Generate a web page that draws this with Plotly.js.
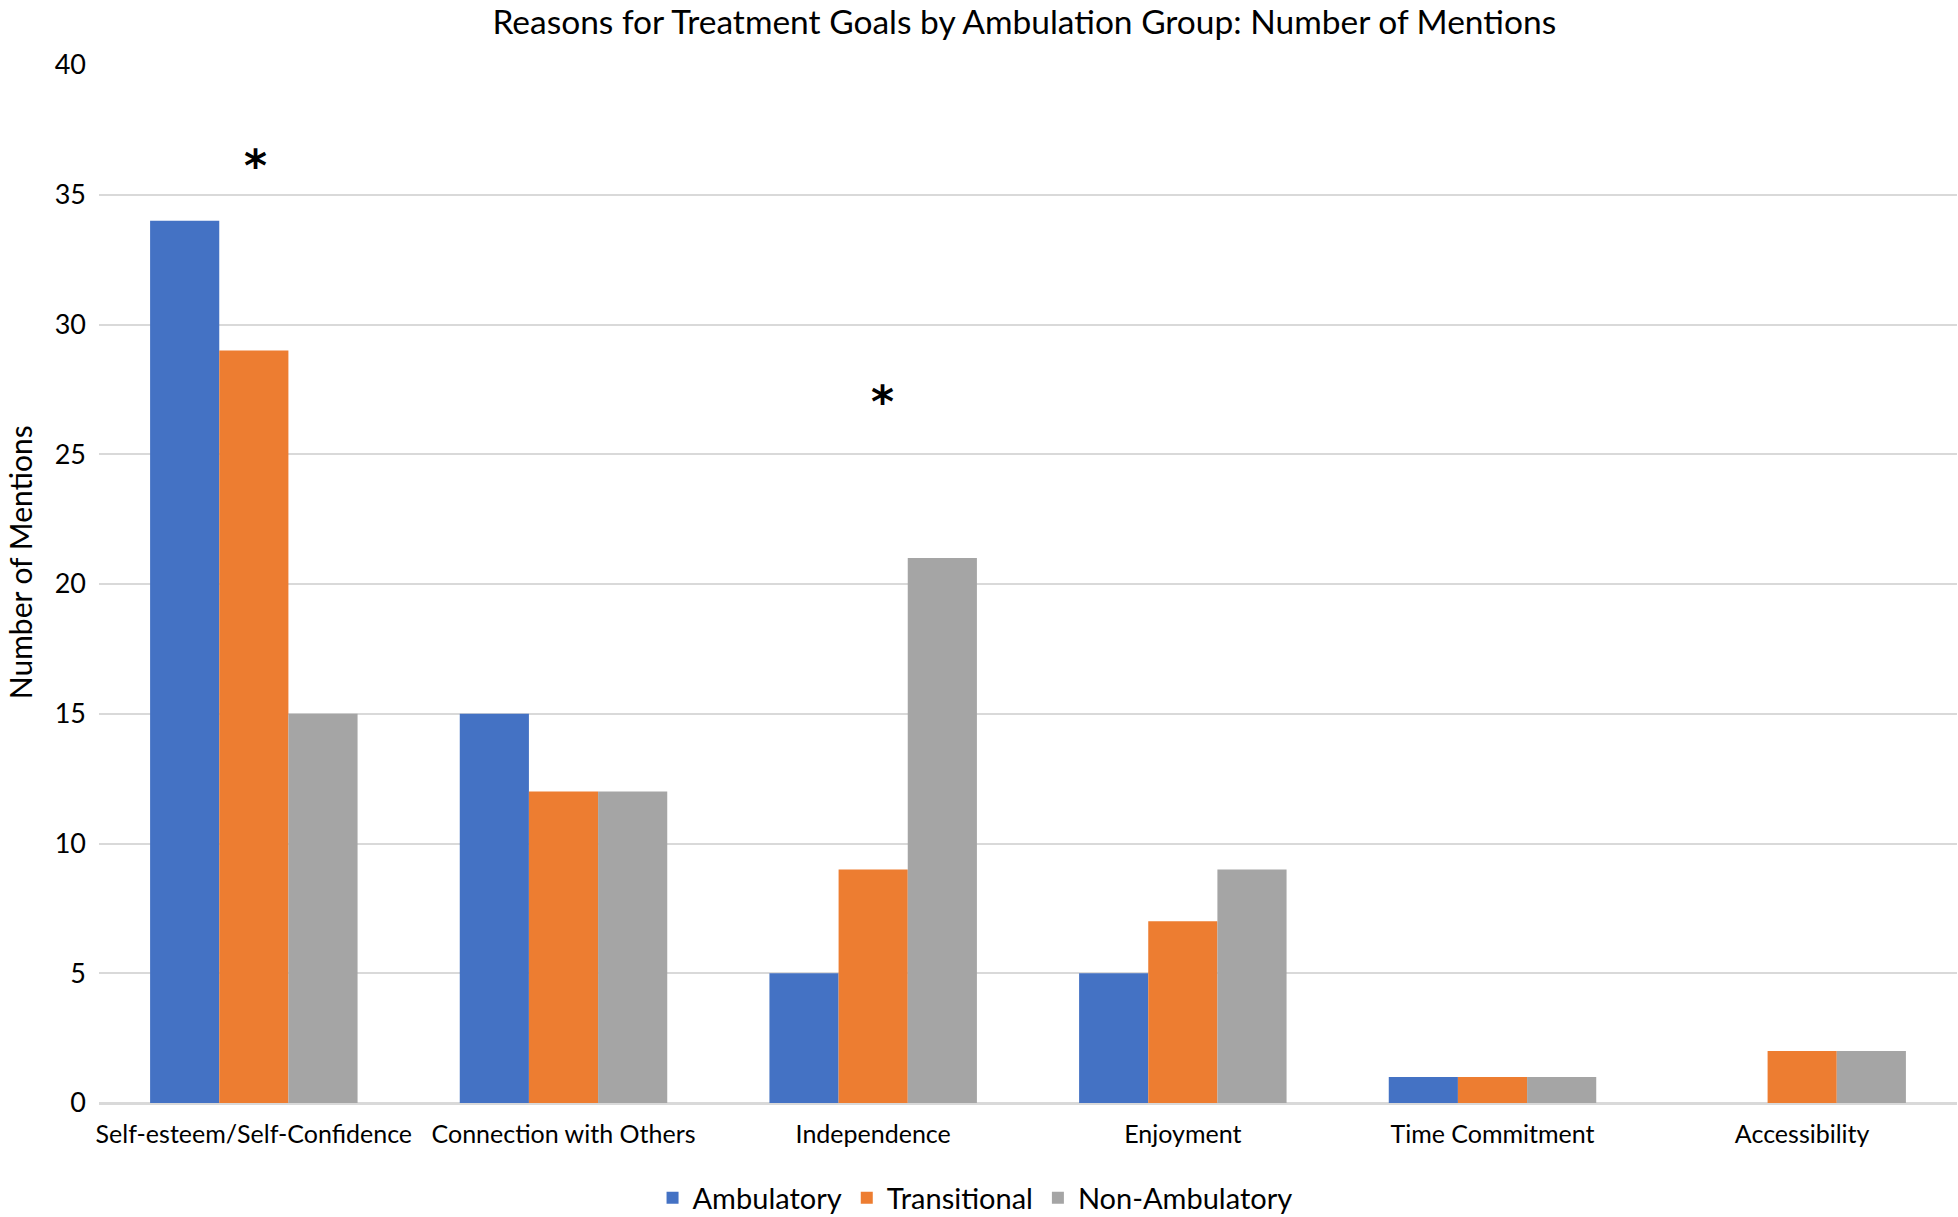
<!DOCTYPE html>
<html>
<head>
<meta charset="utf-8">
<script src="https://cdn.plot.ly/plotly-3.0.1.min.js"></script>
<style>html,body{margin:0;padding:0;background:#fff;}#chart{width:1958px;height:1217px;}</style>
</head>
<body>
<div id="chart"></div>
<script>
const categories = ["Self-esteem/Self-Confidence", "Connection with Others", "Independence", "Enjoyment", "Time Commitment", "Accessibility"];
const seriesNames = ["Ambulatory", "Transitional", "Non-Ambulatory"];
const ambulatory = [34, 15, 5, 5, 1, 0];
const transitional = [29, 12, 9, 7, 1, 2];
const nonAmbulatory = [15, 12, 21, 9, 1, 2];
const yTicks = [0, 5, 10, 15, 20, 25, 30, 35, 40];
const starCategories = ["Self-esteem/Self-Confidence", "Independence"];
const starValues = [36.3, 27.2];

const colors = ["#4472C4", "#ED7D31", "#A5A5A5"];
const FONT = "Lato, 'Open Sans', sans-serif";

const traces = [ambulatory, transitional, nonAmbulatory].map((vals, i) => ({
  type: "bar",
  name: seriesNames[i],
  x: categories,
  y: vals,
  marker: {color: colors[i], line: {width: 0}},
  hoverinfo: "x+y+name"
}));

const annotations = starCategories.map((c, i) => ({
  x: c, y: starValues[i], xref: "x", yref: "y",
  text: "<b>*</b>", showarrow: false,
  xshift: i === 0 ? 2 : 9, yshift: -4,
  font: {family: "DejaVu Sans, sans-serif", size: 44, color: "#000"}
}));
annotations.push({
  xref: "paper", yref: "paper", x: (20 - 99) / 1858, y: 0.521,
  text: "Number of Mentions", textangle: -90, showarrow: false,
  xanchor: "center", yanchor: "middle",
  font: {family: FONT, size: 30, color: "#000"}
});

const layout = {
  width: 1958, height: 1217,
  margin: {l: 99, r: 1, t: 65, b: 114, pad: 0, autoexpand: false},
  paper_bgcolor: "#fff", plot_bgcolor: "#fff",
  font: {family: FONT, color: "#000"},
  title: {
    text: "Reasons for Treatment Goals by Ambulation Group: Number of Mentions",
    x: 0.498, xref: "paper", xanchor: "center",
    y: 1 - 22 / 1217, yref: "container", yanchor: "middle",
    font: {family: FONT, size: 33.5, color: "#000"}
  },
  barmode: "group",
  bargap: 0.33,
  bargroupgap: 0,
  xaxis: {
    type: "category",
    showgrid: false, zeroline: false, showline: false,
    ticks: "", ticklabelstandoff: 14,
    tickfont: {family: FONT, size: 25, color: "#000"},
    fixedrange: true
  },
  yaxis: {
    range: [0, 40], tickvals: yTicks, ticktext: yTicks.map(String),
    showgrid: true, gridcolor: "#d9d9d9", gridwidth: 2,
    zeroline: true, zerolinecolor: "#d9d9d9", zerolinewidth: 3,
    showline: false, ticks: "", ticklabelstandoff: 12,
    tickfont: {family: FONT, size: 27, color: "#000"},
    fixedrange: true
  },
  legend: {
    orientation: "h", x: 0.4715, xanchor: "center", y: -(1198 - 1103) / 1038, yanchor: "middle",
    font: {family: FONT, size: 29, color: "#000"},
    itemwidth: 30, tracegroupgap: 0, traceorder: "normal"
  },
  showlegend: true,
  annotations: annotations
};

Plotly.newPlot("chart", traces, layout, {displayModeBar: false, staticPlot: true});
</script>
</body>
</html>
